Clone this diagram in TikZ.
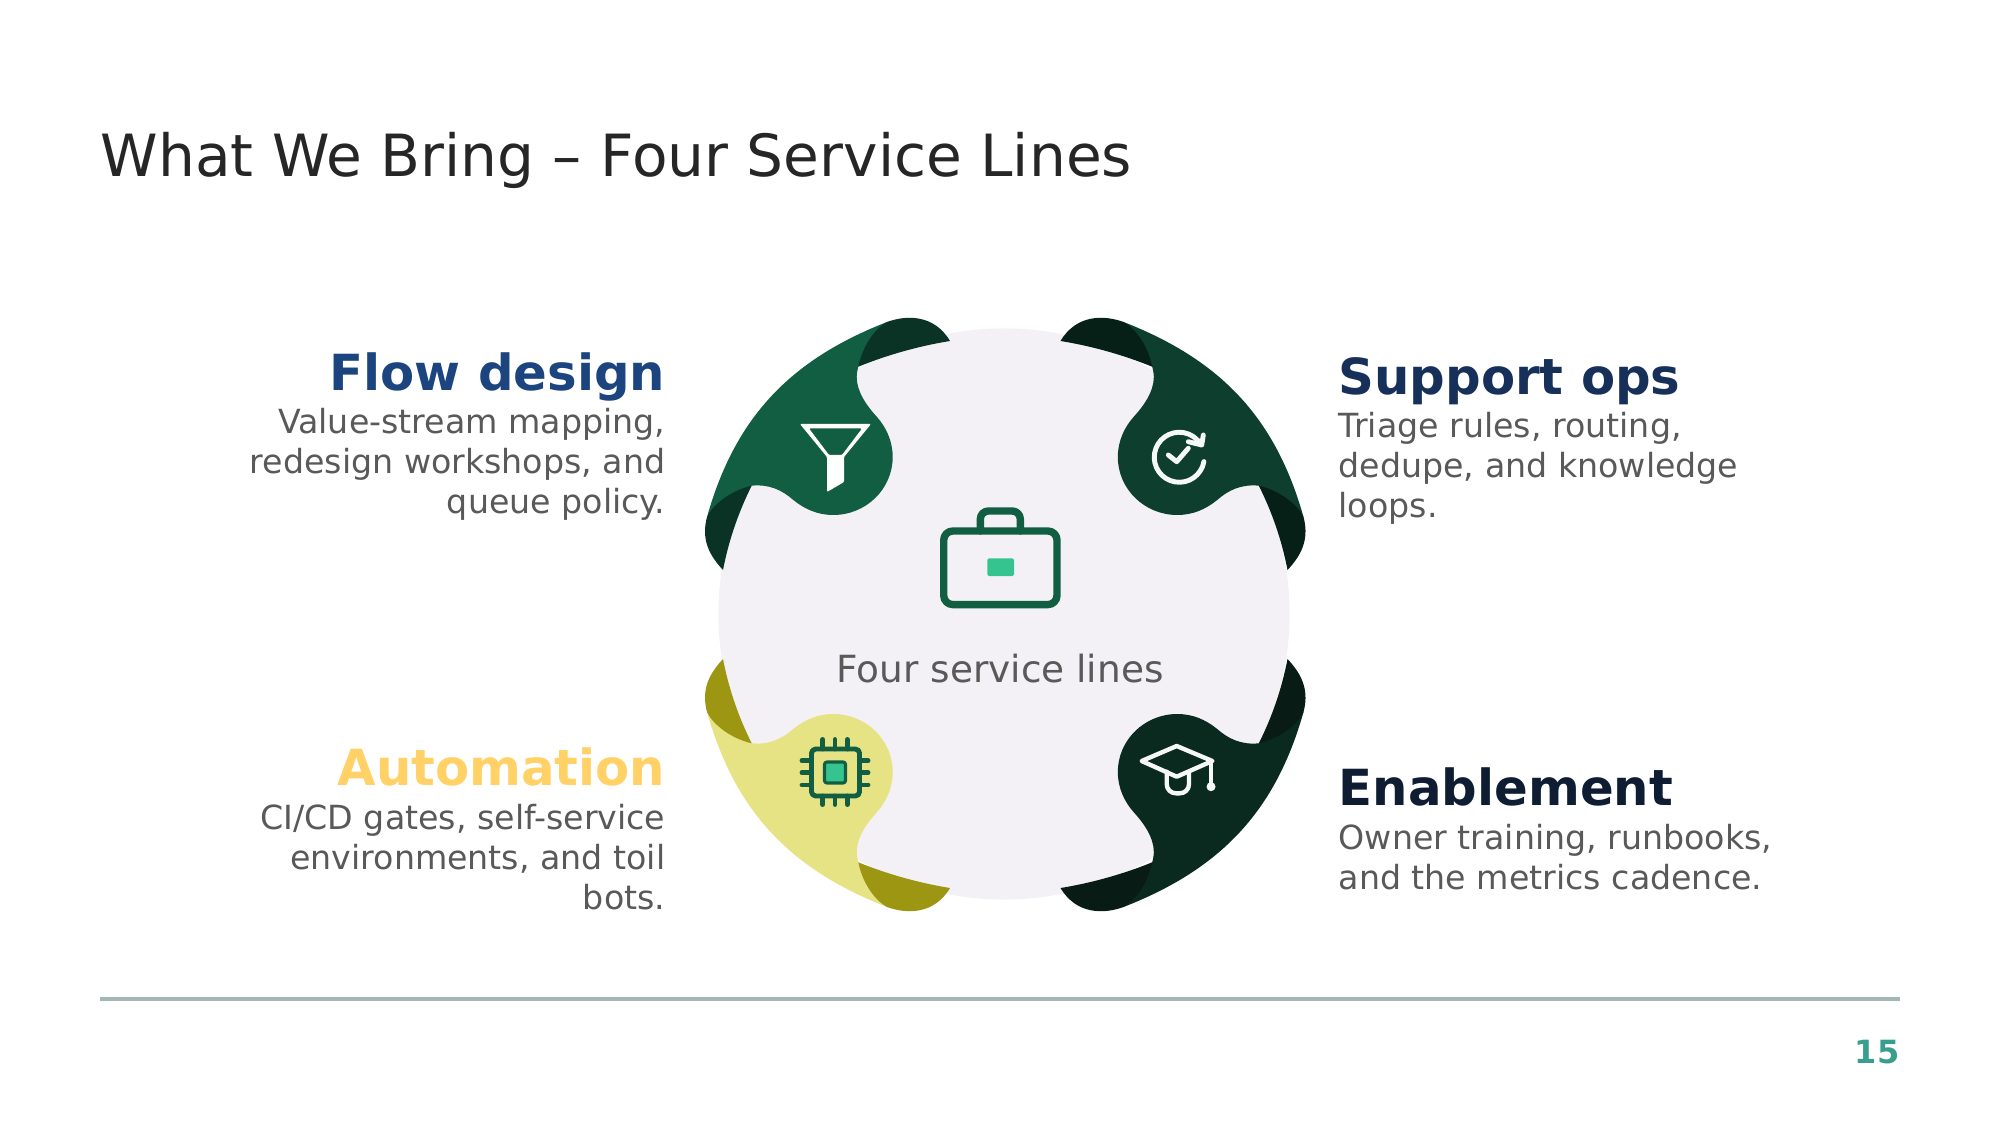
\documentclass[tikz,border=0pt]{standalone}
\usepackage{fontspec}
\setmainfont{DejaVu Sans}
\usetikzlibrary{arrows.meta, positioning}
\definecolor{flowgreen}{HTML}{125E42}
\definecolor{flowdark}{HTML}{0B3325}
\definecolor{opsgreen}{HTML}{0E3E2D}
\definecolor{opsdark}{HTML}{061F17}
\definecolor{enablegreen}{HTML}{0B2A1F}
\definecolor{enabledark}{HTML}{081C15}
\definecolor{autoyellow}{HTML}{E6E384}
\definecolor{autodark}{HTML}{9C9613}
\definecolor{discgray}{HTML}{F3F1F5}
\definecolor{mint}{HTML}{35C48F}
\definecolor{bodygray}{HTML}{595959}
\definecolor{iconwhite}{HTML}{F5F8F6}
\definecolor{flowtext}{HTML}{1C4580}
\definecolor{opstext}{HTML}{17305A}
\definecolor{autotext}{HTML}{FFD166}
\definecolor{enabletext}{HTML}{0F1D33}
\definecolor{rulegray}{HTML}{A3B8B5}
\definecolor{pageteal}{HTML}{3A9E8F}
\tikzset{
  titletext/.style={inner sep=0, anchor=base west, text=black!85, font=\fontsize{16.55}{20}\selectfont},
  head/.style={inner sep=0, text=#1, font=\fontsize{14.15}{17}\selectfont\bfseries},
  body/.style={inner sep=0, text=bodygray, font=\fontsize{9.45}{11.35}\selectfont},
  iconline/.style={draw=#1, line width=1.4pt, line cap=round, line join=round},
}
\newcommand{\petal}[3]{%
  \begin{scope}[#1]
    \fill[#2] (-117,-292) .. controls (-215.3,-253.7) and (-269.3,-195.2) .. (-297,-97)
      -- (-252.3,-128.3) .. controls (-235,-130) and (-222,-124) .. (-210.7,-114)
      .. controls (-199,-104.5) and (-186,-99) .. (-170.7,-99)
      .. controls (-138,-99) and (-111.3,-125) .. (-111.3,-157)
      .. controls (-111.3,-173) and (-118,-187) .. (-127.3,-197.3)
      .. controls (-137,-208) and (-147.3,-222) .. (-147.3,-237)
      .. controls (-147.3,-241) and (-146.5,-244) .. (-145.7,-247.3) -- cycle;
    \fill[#3] (-54,-273) .. controls (-85,-268) and (-117,-259) .. (-145.7,-247.3)
      .. controls (-141,-270) and (-128,-286) .. (-117,-292)
      .. controls (-98,-299) and (-70,-300) .. (-54,-273) -- cycle;
    \fill[#3] (-281,-44) .. controls (-275,-75) and (-265,-103) .. (-252.3,-128.3)
      .. controls (-275,-123) and (-292,-108) .. (-297,-97)
      .. controls (-302,-78) and (-298,-62) .. (-281,-44) -- cycle;
  \end{scope}}
\begin{document}
\begin{tikzpicture}[x=0.01cm, y=-0.01cm]
  \useasboundingbox (0,0) rectangle (2001,1125);
  \node[titletext] (title) at (100,177) {What We Bring – Four Service Lines};

  \fill[discgray] (1004,614) circle[radius=2.855cm];
  \petal{shift={(1004,614)}}{flowgreen}{flowdark}
  \petal{shift={(1006.5,614)}, xscale=-1}{opsgreen}{opsdark}
  \petal{shift={(1004,615)}, yscale=-1}{autoyellow}{autodark}
  \petal{shift={(1006.5,615)}, xscale=-1, yscale=-1}{enablegreen}{enabledark}

  \draw[iconline=flowgreen, line width=2.1pt, rounded corners=2.6pt] (943.7,531) rectangle (1057,604.6);
  \draw[iconline=flowgreen, line width=2.1pt, rounded corners=2.3pt] (980.3,531) -- (980.3,511) -- (1020.3,511) -- (1020.3,531);
  \fill[mint, rounded corners=0.6pt] (987.3,558.3) rectangle (1014,576);
  \node[body, font=\fontsize{10.64}{12}\selectfont, anchor=base] (center) at (1000,682.5) {Four service lines};

  \fill[white, even odd rule, rounded corners=0.3pt]
    (800,424) -- (871,424) -- (844,457) -- (844,482) -- (827,492) -- (827,457) -- cycle
    (809,428.5) -- (862,428.5) -- (842,455) -- (829,455) -- cycle;

  \draw[iconline=iconwhite] (1203.9,461.6) arc[start angle=-10, end angle=-330, radius=0.25cm];
  \draw[iconline=iconwhite] (1168.3,455) -- (1176.7,461.7) -- (1188.3,448.3);
  \draw[iconline=iconwhite] (1203.3,435) -- (1201.7,445) -- (1188.3,441.7);

  \foreach \px in {822.7,835,847.3} {
    \draw[iconline=flowgreen] (\px,739.5) -- (\px,749);
    \draw[iconline=flowgreen] (\px,796) -- (\px,804.5);
  }
  \foreach \py in {760.7,772.7,785} {
    \draw[iconline=flowgreen] (802,\py) -- (811.5,\py);
    \draw[iconline=flowgreen] (859.5,\py) -- (868,\py);
  }
  \draw[iconline=flowgreen, rounded corners=1.2pt] (811.5,749) rectangle (859.5,796);
  \draw[iconline=flowgreen, fill=mint, line width=0.9pt, rounded corners=0.7pt] (824.5,762) rectangle (845.5,783);

  \draw[iconline=iconwhite, line width=1.25pt] (1176.7,746) -- (1212.3,761) -- (1176.7,776.7) -- (1141.7,761) -- cycle;
  \draw[iconline=iconwhite, line width=1.25pt, rounded corners=2.6pt] (1166.7,771.7) -- (1166.7,793.3) -- (1189,793.3) -- (1189,771.7);
  \draw[iconline=iconwhite, line width=0.9pt] (1211,761) -- (1211,785);
  \fill[iconwhite] (1211,786.7) circle[radius=0.045cm];

  \node[head=flowtext, anchor=base east] (flow) at (666,391) {Flow design};
  \node[body, align=right, anchor=north east] (flowbody) at (666,408) {Value-stream mapping,\\redesign workshops, and\\queue policy.};
  \node[head=opstext, anchor=base west] (ops) at (1338,395) {Support ops};
  \node[body, align=left, anchor=north west] (opsbody) at (1338,412) {Triage rules, routing,\\dedupe, and knowledge\\loops.};
  \node[head=autotext, anchor=base east] (auto) at (666,785) {Automation};
  \node[body, align=right, anchor=north east] (autobody) at (666,804) {CI/CD gates, self-service\\environments, and toil\\bots.};
  \node[head=enabletext, anchor=base west] (enable) at (1338,805) {Enablement};
  \node[body, align=left, anchor=north west] (enablebody) at (1338,824) {Owner training, runbooks,\\and the metrics cadence.};

  \draw[draw=rulegray, line width=1.15pt] (100,999) -- (1900,999);
  \node[inner sep=0, anchor=base east, text=pageteal, font=\fontsize{9.1}{11}\selectfont\bfseries] (page) at (1900,1063) {15};
\end{tikzpicture}
\end{document}
